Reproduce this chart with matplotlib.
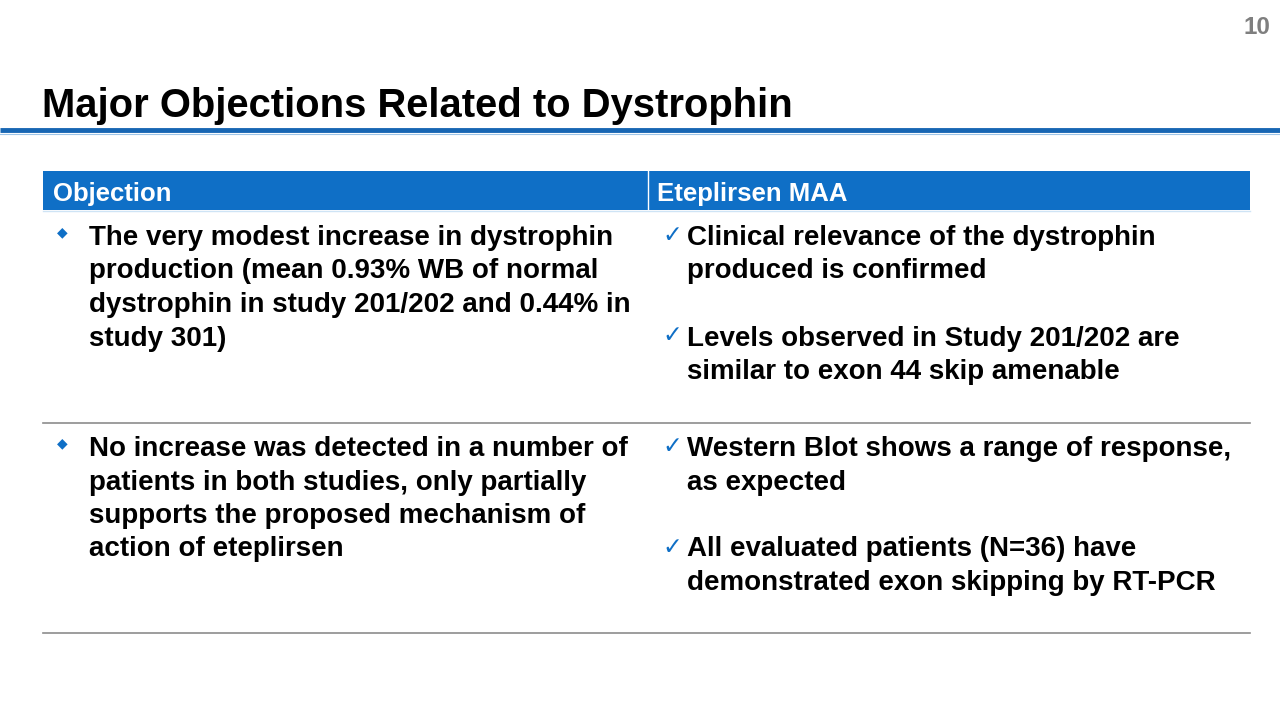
import matplotlib.pyplot as plt
from matplotlib.patches import Rectangle

# Slide content
title = 'Major Objections Related to Dystrophin'
page_number = '10'
headers = ['Objection', 'Eteplirsen MAA']

objections = [
    ['The very modest increase in dystrophin',
     'production (mean 0.93% WB of normal',
     'dystrophin in study 201/202 and 0.44% in',
     'study 301)'],
    ['No increase was detected in a number of',
     'patients in both studies, only partially',
     'supports the proposed mechanism of',
     'action of eteplirsen'],
]

responses = [
    [['Clinical relevance of the dystrophin', 'produced is confirmed'],
     ['Levels observed in Study 201/202 are', 'similar to exon 44 skip amenable']],
    [['Western Blot shows a range of response,', 'as expected'],
     ['All evaluated patients (N=36) have', 'demonstrated exon skipping by RT-PCR']],
]

blue = '#0f6fc6'
font = 'Liberation Sans'

fig = plt.figure(figsize=(12.8, 7.2), dpi=100)
ax = fig.add_axes([0, 0, 1, 1])
ax.set_xlim(0, 1280)
ax.set_ylim(720, 0)
ax.axis('off')

# page number and title
ax.text(1270, 28, page_number, ha='right', va='center', fontsize=17.5,
        fontweight='bold', color='#7f7f7f', family=font)
ax.text(42, 106, title, ha='left', va='center', fontsize=28.8,
        fontweight='bold', color='black', family=font)
ax.plot([0, 1280], [130, 130], color='#1766b3', lw=3.5, solid_capstyle='butt')
ax.plot([0, 1280], [133.5, 133.5], color='#9ec5e8', lw=0.8)

# header row
left, mid, right = 43, 648, 1250
ax.add_patch(Rectangle((left, 171), right - left, 39, color=blue, lw=0))
ax.plot([mid, mid], [171, 210], color='white', lw=1)
ax.plot([left, right], [210.5, 210.5], color='#cfe4f5', lw=1)
ax.text(53, 192, headers[0], ha='left', va='center_baseline', fontsize=18.5,
        fontweight='bold', color='white', family=font)
ax.text(657, 192, headers[1], ha='left', va='center_baseline', fontsize=18.5,
        fontweight='bold', color='white', family=font)

line_h = 33.5
row_tops = [235, 446]
row_bottoms = [423, 633]

for r in range(len(objections)):
    y0 = row_tops[r]
    ax.text(62, y0 - 3, '\u25c6', ha='center', va='center', fontsize=10,
            color=blue, family='DejaVu Sans')
    for i, line in enumerate(objections[r]):
        ax.text(89, y0 + i * line_h, line, ha='left', va='center_baseline',
                fontsize=20, fontweight='bold', color='black', family=font)
    y = y0
    for item in responses[r]:
        ax.text(672, y, '\u2713', ha='center', va='center', fontsize=17,
                fontweight='bold', color=blue, family='DejaVu Sans')
        for line in item:
            ax.text(687, y, line, ha='left', va='center_baseline',
                    fontsize=20, fontweight='bold', color='black', family=font)
            y += line_h
        y += line_h
    ax.plot([left, right], [row_bottoms[r], row_bottoms[r]], color='#8c8c8c', lw=1.2)

fig.savefig('out.png', dpi=100)
